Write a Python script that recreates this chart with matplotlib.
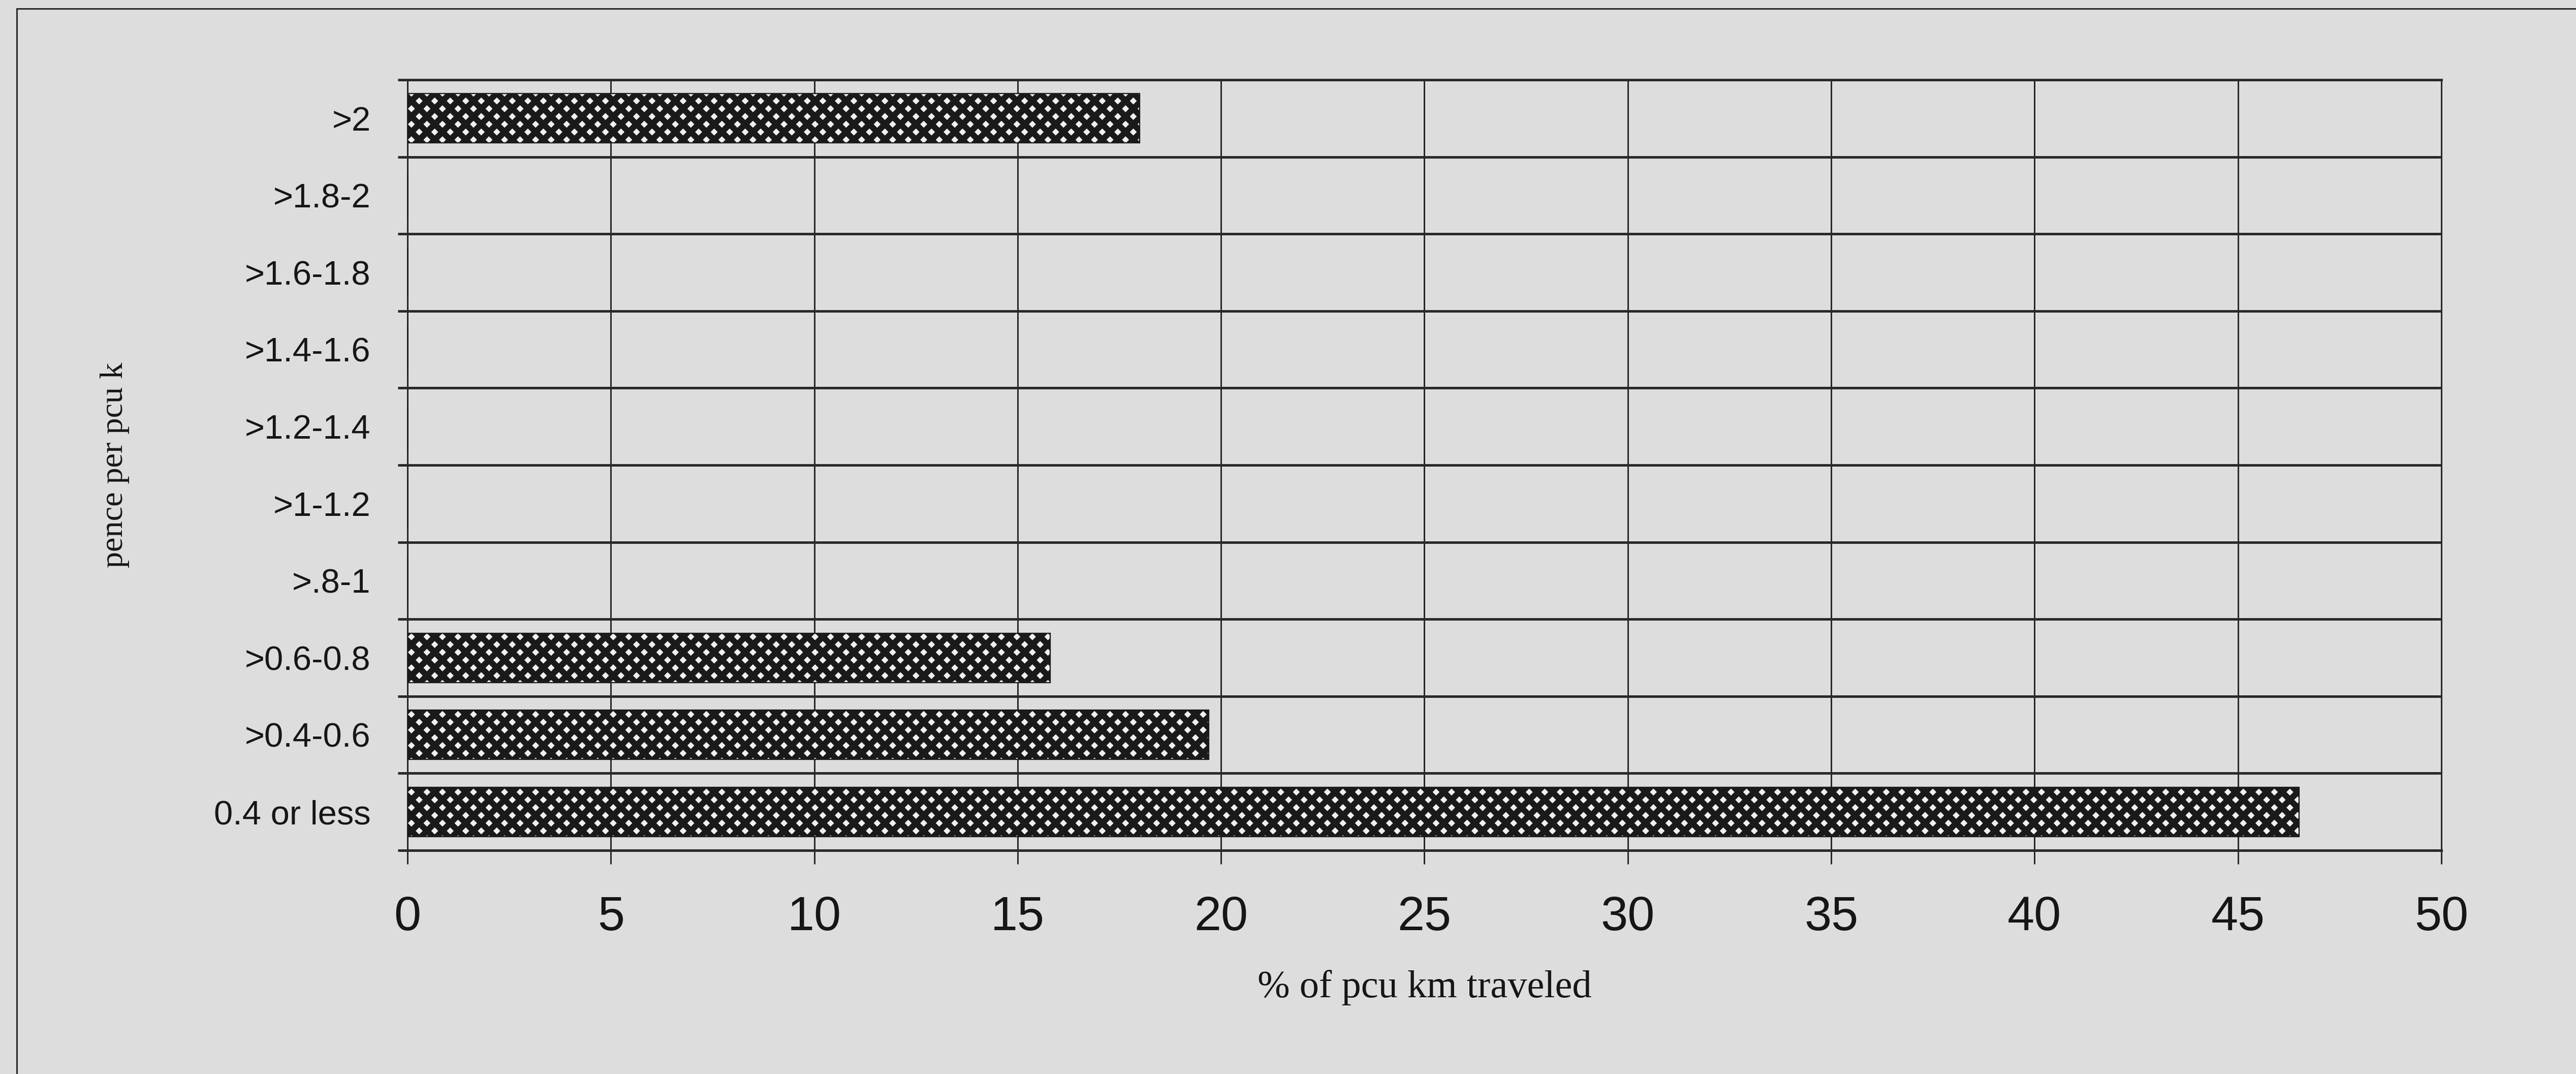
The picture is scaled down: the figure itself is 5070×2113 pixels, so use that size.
#!/usr/bin/env python3
"""
Distribution of pcu km travelled by charge band (pence per pcu km).
Horizontal bar chart in the old spreadsheet style: patterned bars,
full grid, category boundaries marked on the value axis.
"""

import matplotlib
matplotlib.use("Agg")
import matplotlib.pyplot as plt
from matplotlib.patches import Rectangle

# charge bands, bottom to top
bands = ["0.4 or less", ">0.4-0.6", ">0.6-0.8", ">.8-1", ">1-1.2",
         ">1.2-1.4", ">1.4-1.6", ">1.6-1.8", ">1.8-2", ">2"]
# share of pcu km travelled in each band (%)
share_pct = [46.5, 19.7, 15.8, 0, 0, 0, 0, 0, 0, 18.0]
x_ticks = [0, 5, 10, 15, 20, 25, 30, 35, 40, 45, 50]

PAPER = "#dddddd"
INK = "#161616"
GRID = "#2a2a2a"
HATCH_LW = 3.1

plt.rcParams["hatch.linewidth"] = HATCH_LW

DPI = 275
fig = plt.figure(figsize=(5070 / DPI, 2113 / DPI), dpi=DPI, facecolor=PAPER)
ax = fig.add_axes([0.1582, 0.2082, 0.9477 - 0.1582, 0.9257 - 0.2082])
ax.set_facecolor(PAPER)

# chart-area border (runs off the right and bottom of the page)
fig.add_artist(Rectangle((0.0066, -0.2), 1.3, 0.992 + 0.2,
                         transform=fig.transFigure, fill=False,
                         edgecolor=GRID, linewidth=0.8))

pos = list(range(len(bands)))
bars = ax.barh(pos, share_pct, height=0.64, color="#f0f0f0", edgecolor="#1a1a1a",
               linewidth=0.6, hatch="xxx", zorder=3)
for b in bars:
    if hasattr(b, "set_hatch_linewidth"):
        b.set_hatch_linewidth(HATCH_LW)

ax.set_xlim(0, 50)
ax.set_ylim(-0.5, len(bands) - 0.5)

# value axis
ax.set_xticks(x_ticks)
ax.tick_params(axis="x", direction="out", length=7, width=0.8, color=GRID,
               pad=16, labelsize=25, labelcolor=INK)
for lbl in ax.get_xticklabels():
    lbl.set_family("Liberation Sans")
ax.xaxis.grid(True, color=GRID, linewidth=0.8)

# category axis: labels at centres, ticks + grid on the boundaries
ax.set_yticks(pos)
ax.set_yticklabels(bands, family="Liberation Sans")
ax.tick_params(axis="y", which="major", length=0, pad=19, labelsize=17.5,
               labelcolor=INK)
ax.set_yticks([p - 0.5 for p in pos] + [len(bands) - 0.5], minor=True)
ax.tick_params(axis="y", which="minor", direction="out", length=5,
               width=1.3, color=GRID)
ax.yaxis.grid(True, which="minor", color=GRID, linewidth=1.3)
ax.set_axisbelow(True)

for side in ("top", "bottom"):
    ax.spines[side].set_linewidth(1.3)
    ax.spines[side].set_color(GRID)
for side in ("left", "right"):
    ax.spines[side].set_linewidth(0.8)
    ax.spines[side].set_color(GRID)

ax.set_xlabel("% of pcu km traveled", family="Liberation Serif",
              fontsize=20, color=INK, va="center")
ax.xaxis.set_label_coords(0.5, -0.178)
ax.set_ylabel("pence per pcu k", family="Liberation Serif",
              fontsize=16.8, color=INK, va="center")
ax.yaxis.set_label_coords(-0.1439, 0.5)

fig.savefig("out.png", dpi=DPI, facecolor=PAPER)
